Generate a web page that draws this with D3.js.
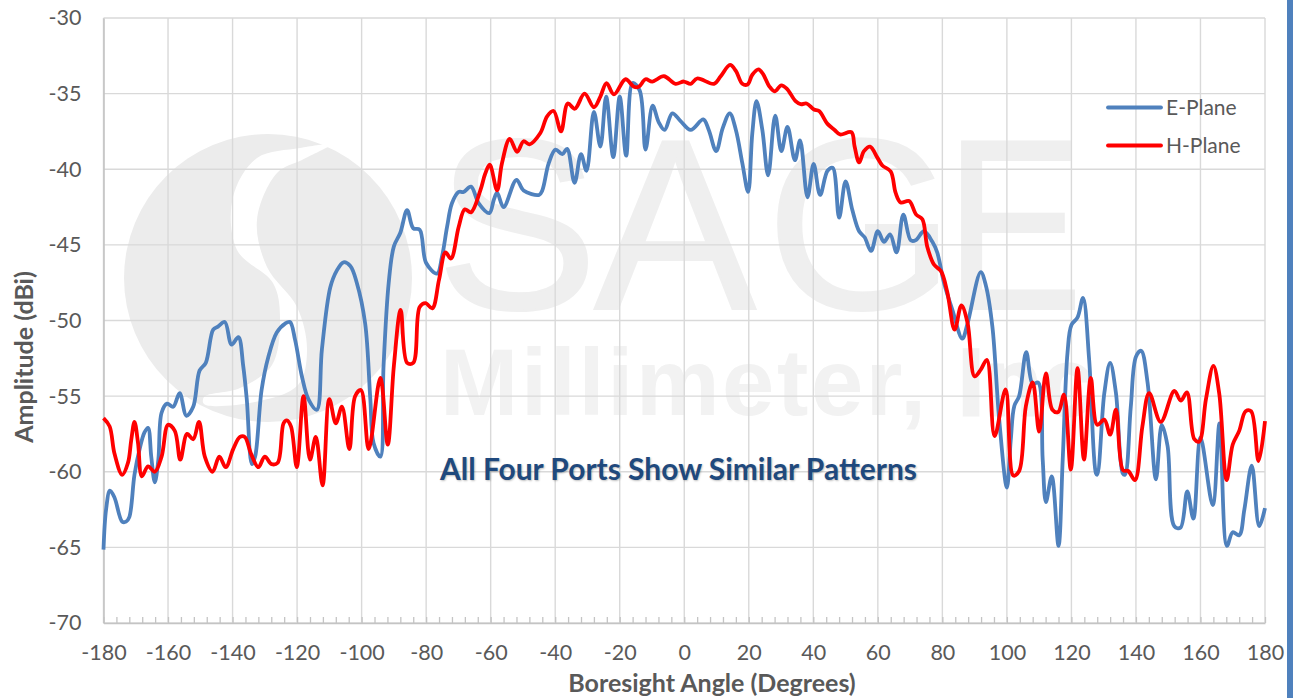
<!DOCTYPE html>
<html>
<head>
<meta charset="utf-8">
<script src="https://cdn.jsdelivr.net/npm/d3@7"></script>
<style>
  html, body { margin: 0; padding: 0; background: #fff; overflow: hidden; }
  text { font-family: Lato, "Open Sans", sans-serif; fill: #595959; }
  .grid line { stroke: #d9d9d9; stroke-width: 1.4; }
</style>
</head>
<body>
<div class="canvas"></div>
<script>
// E-plane
const eAngles = [-180,-179.2,-178,-176.6,-174.2,-173,-172,-170.4,-168.8,-167.3,-166.2,-165.2,-164.1,-163,-162,-160.3,-158.4,-156.4,-154.3,-152.2,
  -150.2,-148.3,-146,-144.5,-142.4,-140.3,-138.2,-136.7,-135.6,-134,-133,-131,-128.9,-126.3,-123.7,-122.2,-120.6,-118.5,-116.5,-113.9,
  -112.3,-109.7,-107.7,-105.6,-103.5,-101.5,-98.9,-97.3,-96.3,-94.2,-93.2,-91.6,-90,-88,-85.9,-84,-82,-80,-76.6,-75.1,
  -73.5,-72,-69.9,-68.4,-66.1,-63.7,-60.4,-59,-58,-56,-52,-49.8,-45,-44,-42,-39.9,-37.8,-36.3,-34,-32,
  -30.3,-28,-26,-24.2,-22,-20,-18,-16,-13.8,-12,-9.8,-7.9,-6.1,-3.7,-1.2,2,5.9,7.6,9.9,11.9,
  14.1,16,18,19.8,21.1,22.4,24.2,26,28.2,30.1,32,34.3,35.9,38.2,40.1,42.1,44.4,46,48,50,
  52.1,54.2,55.9,57.9,60,61.9,63.8,65.8,67.9,70.2,71.7,74.3,76.9,78.4,80.5,83.1,86.2,87.8,91.9,93.5,
  95.5,97.6,100,101.2,102.3,103.8,106,108,109.7,111.1,112.1,113.9,116,117.3,118.8,120,121.9,123.6,125.5,127.6,
  128,130.2,132,133.8,135.9,136.6,138.4,140,141.6,143.6,146.2,148,149.8,151.9,153.8,155.9,157.8,160,163.8,165.9,
  168.2,170,172,173.6,175.9,178.2,180]
const eValues = [-65.15,-62.5,-61.25,-61.7,-63.3,-63.3,-63,-60.2,-58.5,-57.4,-57.1,-59,-60.7,-59.2,-56.1,-55.5,-55.7,-54.8,-56.3,-55.7,
  -53.3,-52.8,-50.6,-50.4,-50.1,-51.6,-51.1,-53,-55.2,-59.5,-59,-54.6,-52.4,-50.8,-50.2,-50.1,-51.3,-53.7,-55.2,-55.9,
  -51.9,-47.8,-46.7,-46.15,-46.4,-47.5,-50.2,-55.2,-58.1,-59,-53,-47.5,-45.1,-44.2,-42.7,-43.9,-44,-46.2,-46.9,-45.8,
  -43.8,-42.25,-41.5,-41.5,-41.15,-42.25,-42.9,-42,-41.55,-42.5,-40.7,-41.4,-41.7,-41.4,-39.6,-38.7,-39,-38.65,-40.9,-39,
  -40.1,-36.2,-38.5,-35.2,-39.2,-35.2,-39.1,-34.3,-34.8,-38.7,-35.8,-36.9,-37.4,-36.3,-36.8,-37.4,-36.7,-37.4,-38.8,-37.3,
  -36.3,-37.4,-39.6,-41.5,-37.6,-35.5,-37.4,-40.4,-36.45,-38.8,-37.2,-39.4,-38.1,-41.85,-39.65,-41.7,-40.1,-39.9,-43.2,-40.8,
  -42.7,-44.1,-44.5,-45.4,-44.1,-44.8,-44.3,-45.5,-43,-44.7,-44.7,-44.1,-44.8,-45.5,-47.5,-49.3,-51.2,-50.2,-46.8,-47.7,
  -50.4,-56.5,-61.05,-57.9,-55.65,-55,-52.1,-54.2,-54.1,-59.2,-62,-60.3,-64.9,-59.2,-52.1,-50.3,-49.8,-48.5,-52.6,-60.1,
  -60.2,-54.8,-52.8,-54.8,-60.1,-60.2,-55.7,-52.4,-52,-54.1,-60.5,-56.9,-58.3,-63.6,-63.7,-61.3,-63.1,-57.75,-62.2,-56.8,
  -64.9,-64,-64.2,-62.5,-59.6,-63.6,-62.4]

// H-plane
const hAngles = [-180,-178.1,-176.6,-174.2,-172.4,-171.4,-170.4,-169.3,-168.1,-166.2,-164.1,-162,-160,-157.9,-156.2,-154.1,-152.2,-150.4,-148.6,-146.2,
  -144.1,-142.1,-139.8,-137.7,-136.2,-134.3,-132,-130,-127.9,-126,-124.2,-123.2,-121.9,-120.1,-118,-116,-114.2,-112.1,-110,-108,
  -106.1,-103.8,-102,-100.2,-97.8,-94.2,-91.9,-90,-87.9,-85.9,-84,-82,-80.2,-78.1,-76,-74,-72.3,-69.9,-68,-66.1,
  -63.2,-61.7,-60.3,-58,-56.5,-54.1,-51.8,-49.8,-48,-44.6,-42.5,-40.5,-38.2,-36.1,-33.9,-30.9,-28,-26,-24.1,-21.8,
  -18.2,-15.6,-14.1,-12,-9.9,-6.3,-2.7,-0.1,2,4,9.2,11.3,14.2,16,18,19.6,21.1,23,24.4,26.3,
  28,30.1,31.9,34.5,36.1,37.9,40.2,41.8,44.4,46.6,48.3,51.8,52.8,54.2,55.7,57.6,59.9,61.4,64,65.5,
  67.1,69.7,71.9,73.8,75.3,77.4,79.6,81.5,83.8,85.9,87.8,90,91.9,93.8,96.2,99.6,102,103.8,105.9,108,
  110,112.1,114.1,115.9,117.7,119.8,121.9,123.9,126,128,130.2,132,133.8,136,137.6,139.7,142,144.1,147.7,151.9,
  153.9,155.8,158.1,159.6,161.7,164,165.8,168.1,170,172,174,175.7,178,180]
const hValues = [-56.45,-57,-58.8,-60.2,-59.4,-57.9,-56.7,-58.1,-60.3,-59.65,-60,-59,-56.9,-57.3,-59.2,-57.5,-57.85,-56.7,-59,-60,
  -59,-59.7,-58.5,-57.7,-57.7,-58.8,-59.7,-59,-59.5,-59.4,-56.8,-56.6,-57,-59.7,-55,-59.2,-57.7,-60.9,-55.2,-56.8,
  -55.7,-58.5,-55,-54.6,-58.5,-53.8,-58.2,-53,-49.3,-52.8,-52.8,-49.1,-48.85,-49.2,-47.3,-45.5,-45.9,-43.8,-42.65,-42.85,
  -41.4,-40.3,-39.7,-41.4,-39.6,-38,-38.85,-38.15,-38.35,-37.6,-36.5,-36.15,-37.5,-35.65,-36,-35,-35.9,-35.2,-34.3,-35.05,
  -34.05,-34.55,-34.55,-34.05,-34.2,-33.85,-34.35,-34.2,-34.35,-34,-34.35,-33.85,-33.1,-33.5,-34.35,-34.4,-33.75,-33.4,-33.7,-34.5,
  -34.85,-34.45,-34.7,-35.5,-35.7,-35.65,-36.05,-36.15,-37,-37.4,-37.7,-37.55,-38.5,-39.55,-38.8,-38.5,-39.25,-39.75,-40.15,-41.55,
  -42.2,-42.1,-43,-43.3,-45.1,-46.3,-46.75,-48.1,-50.6,-49,-50.15,-53.7,-53.25,-52.6,-57.65,-54.55,-60.25,-59.95,-55.65,-54.1,
  -57.35,-53.5,-55.9,-56.05,-54.9,-59.85,-53.15,-59.2,-53.8,-56.9,-56.55,-57.55,-55.9,-59.9,-59.95,-60.55,-57,-54.8,-56.7,-54.65,
  -55.3,-54.75,-57.85,-58,-55.2,-53,-54.8,-60.55,-58.2,-57.3,-56,-56,-59.3,-56.65]

const yTicks = [-70,-65,-60,-55,-50,-45,-40,-35,-30]
const xTicks = [-180,-160,-140,-120,-100,-80,-60,-40,-20,0,20,40,60,80,100,120,140,160,180]
const xMinorTicks = d3.range(-180, 181, 4)
const legendNames = ['E-Plane', 'H-Plane']
const colors = ['#4f81bd', '#ff0000']

const width = 1293
const height = 698
const margin = { top: 18, right: 28, bottom: 75, left: 103.5 }

const svg = d3.select('.canvas')
  .append('svg')
  .attr('width', width)
  .attr('height', height)
  .style('display', 'block')

const x = d3.scaleLinear().domain([-180, 180]).range([margin.left, width - margin.right])
const y = d3.scaleLinear().domain([-70, -30]).range([height - margin.bottom, margin.top])

// watermark, sits behind the grid
const mark = svg.append('g').attr('class', 'watermark')
mark.append('circle').attr('cx', 268).attr('cy', 278).attr('r', 144).attr('fill', '#ececec')

const swooshOuter = [[326,144],[300,148],[257,158],[233,197],[237,250],[273,283],[280,317],[272,365],[240,388],[204,397]]
const swooshInner = [[204,404],[255,402],[298,385],[307,350],[297,307],[267,267],[257,220],[277,173],[302,160],[330,146]]
const swooshLine = d3.line().curve(d3.curveCatmullRom)
mark.append('path')
  .attr('d', swooshLine(swooshOuter.concat(swooshInner)) + 'Z')
  .attr('fill', '#fff')

mark.append('text')
  .attr('x', '436 594 766').attr('y', 309)
  .style('font-family', '"Liberation Sans"').style('font-size', '243px').style('fill', '#efefef')
  .style('stroke', '#efefef').style('stroke-width', 2)
  .text('SAG')
mark.append('text')
  .attr('x', 945).attr('y', 309)
  .attr('textLength', 138).attr('lengthAdjust', 'spacingAndGlyphs')
  .style('font-family', '"Liberation Sans"').style('font-size', '243px').style('fill', '#efefef')
  .style('stroke', '#efefef').style('stroke-width', 2)
  .text('E')
mark.append('text')
  .attr('x', 440).attr('y', 415)
  .attr('textLength', 486).attr('lengthAdjust', 'spacing')
  .style('font-family', '"Liberation Sans"').style('font-weight', 700).style('font-size', '94px').style('fill', '#f2f2f2')
  .text('Millimeter,')
mark.append('text')
  .attr('x', 958).attr('y', 415)
  .style('font-family', '"Liberation Sans"').style('font-weight', 700).style('font-size', '94px').style('fill', '#f2f2f2')
  .style('stroke', '#f2f2f2').style('stroke-width', 3)
  .text('Inc')

// grid
const grid = svg.append('g').attr('class', 'grid')
grid.selectAll('.gy').data(yTicks).enter().append('line')
  .attr('x1', x(-180)).attr('x2', x(180))
  .attr('y1', d => y(d)).attr('y2', d => y(d))
grid.selectAll('.gx').data(xTicks).enter().append('line')
  .attr('x1', d => x(d)).attr('x2', d => x(d))
  .attr('y1', y(-70)).attr('y2', y(-30))

// axes, plain hyphen in the labels like the original
const yAxisGroup = svg.append('g')
  .attr('transform', `translate(${x(-180)}, 0)`)
  .call(d3.axisLeft(y).tickValues(yTicks).tickSize(0).tickPadding(22).tickFormat(d => String(d)))
const xMinorGroup = svg.append('g')
  .attr('transform', `translate(0, ${y(-70)})`)
  .call(d3.axisBottom(x).tickValues(xMinorTicks).tickSize(-6).tickFormat(''))
const xAxisGroup = svg.append('g')
  .attr('transform', `translate(0, ${y(-70)})`)
  .call(d3.axisBottom(x).tickValues(xTicks).tickSize(0).tickPadding(24).tickFormat(d => String(d)))

yAxisGroup.selectAll('.domain').attr('stroke', '#c4c4c4').attr('stroke-width', 1.6)
xAxisGroup.selectAll('.domain').attr('stroke', '#c4c4c4').attr('stroke-width', 1.6)
xMinorGroup.selectAll('.domain').remove()
xMinorGroup.selectAll('line').attr('stroke', '#c4c4c4').attr('stroke-width', 1.3)
yAxisGroup.selectAll('text').style('font-size', '21.5px').style('fill', '#595959')
xAxisGroup.selectAll('text').style('font-size', '21.5px').style('fill', '#595959')
xAxisGroup.selectAll('text').attr('dy', '0.62em')

svg.append('text')
  .attr('x', 712).attr('y', 692)
  .attr('text-anchor', 'middle')
  .style('font-size', '25px').style('font-weight', 700)
  .text('Boresight Angle (Degrees)')
svg.append('text')
  .attr('transform', 'translate(33, 357) rotate(-90)')
  .attr('text-anchor', 'middle')
  .style('font-size', '25px').style('font-weight', 700)
  .text('Amplitude (dBi)')

// the two traces
const line = d3.line()
  .x(d => x(d[0]))
  .y(d => y(d[1]))
  .curve(d3.curveCatmullRom.alpha(0.5))

const series = [d3.zip(eAngles, eValues), d3.zip(hAngles, hValues)]
svg.selectAll('.trace').data(series).enter().append('path')
  .attr('class', 'trace')
  .attr('d', line)
  .attr('fill', 'none')
  .attr('stroke', (d, i) => colors[i])
  .attr('stroke-width', 3.8)
  .attr('stroke-linejoin', 'round')

// legend
const legend = svg.selectAll('.legend').data(legendNames).enter().append('g')
  .attr('class', 'legend')
  .attr('transform', (d, i) => `translate(1108, ${107.5 + i * 38})`)
legend.append('line')
  .attr('x1', 0).attr('x2', 53)
  .attr('stroke', (d, i) => colors[i])
  .attr('stroke-width', 3.8)
  .attr('stroke-linecap', 'round')
legend.append('text')
  .attr('x', 58).attr('dy', '0.35em')
  .style('font-size', '21px')
  .text(d => d)

// note over the plot
svg.append('text')
  .attr('x', 440).attr('y', 480)
  .attr('textLength', 477).attr('lengthAdjust', 'spacingAndGlyphs')
  .style('font-size', '30px').style('font-weight', 700).style('fill', '#1f497d')
  .style('text-shadow', '1px 1px 2px rgba(0,0,0,0.25)')
  .text('All Four Ports Show Similar Patterns')

// slide edge
svg.append('rect')
  .attr('x', 1287).attr('y', 0).attr('width', 6).attr('height', height)
  .attr('fill', '#4f81bd')
</script>
</body>
</html>
